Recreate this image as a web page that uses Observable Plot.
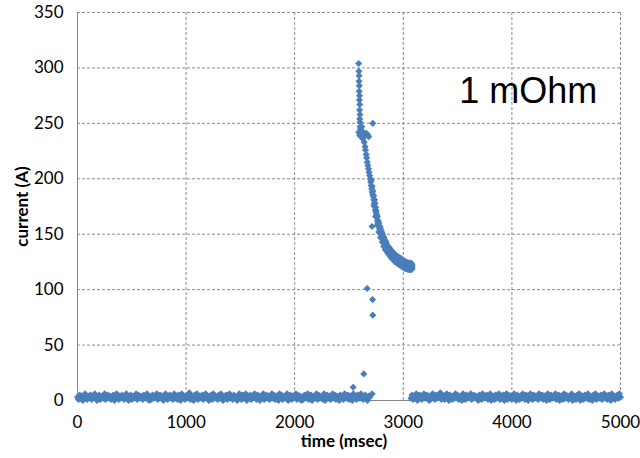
<!DOCTYPE html>
<html><head><meta charset="utf-8">
<script src="https://cdn.jsdelivr.net/npm/d3@7"></script>
<script src="https://cdn.jsdelivr.net/npm/@observablehq/plot@0.6"></script>
<style>body{margin:0;background:#fff} #chart svg{display:block}</style>
</head><body><div id="chart"></div><script>
// ---- data ----
const xTicks = [0, 1000, 2000, 3000, 4000, 5000];
const yTicks = [0, 50, 100, 150, 200, 250, 300, 350];
const xTitle = "time (msec)";
const yTitle = "current (A)";
const annotations = [{t: 3516, v: 268, label: "1 mOhm"}];

// baseline noise before the event, sampled every 10 ms from 0 ms
const noiseStep = 10;
const noiseLeft = [
 3,1,5,2,4,0,3,6,2,1,4,3,5,1,2,4,6,3,0,2,5,1,3,4,2,6,1,3,5,2,
 4,1,3,5,0,2,6,3,1,4,2,5,3,1,4,6,2,0,3,5,1,4,2,3,6,1,5,2,4,3,
 1,5,3,2,6,4,0,3,1,5,2,4,3,6,1,2,5,3,4,0,2,6,3,1,4,5,2,3,1,6,
 2,4,1,5,3,0,6,2,4,1,3,5,2,7,1,4,3,0,5,2,6,1,3,4,2,5,1,3,6,2,
 4,0,3,5,1,6,2,4,3,1,5,2,6,3,0,4,2,5,1,3,6,2,4,1,5,3,2,0,4,6,
 3,1,5,2,4,6,0,3,2,5,1,4,3,6,2,1,5,3,0,4,2,6,1,3,5,2,4,1,3,6,
 2,5,1,4,3,0,6,2,5,1,3,4,2,6,0,3,5,1,4,2,3,6,1,5,2,4,0,3,1,5,
 4,2,6,1,3,5,0,2,4,3,6,1,5,2,3,4,1,6,0,3,5,2,4,1,3,6,2,5,1,4,
 3,0,5,2,4,1,6,3,2,5,1,4,3,0,6,2,4,1,5,3,2,6,4,1,3,5,2,0,4,3
];
// baseline noise after the event, sampled every 10 ms from 3070 ms
const noiseRightStart = 3070;
const noiseRight = [
 2,5,1,4,3,6,0,2,5,3,1,4,6,2,3,5,1,0,4,2,6,3,1,5,2,4,3,7,1,5,
 3,1,4,6,2,0,5,3,1,4,2,6,3,5,1,2,4,0,6,3,1,5,2,4,3,6,1,2,5,3,
 4,2,0,5,3,1,6,2,4,3,5,1,2,6,0,3,4,1,5,2,3,6,1,4,2,5,0,3,6,1,
 5,2,4,1,3,6,2,0,5,3,1,4,2,6,3,1,5,4,0,2,6,3,1,5,2,4,3,1,6,2,
 3,5,1,4,2,0,6,3,1,5,2,4,3,6,1,2,5,0,4,3,1,6,2,5,3,1,4,2,6,0,
 2,4,1,5,3,6,0,2,4,1,5,3,2,6,1,4,3,0,5,2,6,1,3,4,2,5,1,3,6,2,
 4,1,5,3,0,6,2,4,1,3,5,2,6,3
];
// the current pulse [time ms, current A]
const pulse = [
 [2589,304],[2591,297],[2593,293],[2592,288],[2595,284],[2594,279],[2597,275],[2596,271],
 [2599,267],[2597,262],[2601,258],[2599,254],[2603,251],[2602,247],[2606,245],[2618,247],
 [2590,242],[2598,239],[2608,241],[2620,240],[2632,242],[2645,239],[2658,241],[2670,240],[2681,238],
 [2628,236],[2640,233],[2648,229],[2652,226],[2658,222],[2663,219],[2668,215],[2674,212],
 [2679,209],[2684,206],[2690,203],[2696,200],[2700,197],[2704,194],[2709,191],[2714,188],
 [2718,186],[2723,184],[2728,181],[2733,178],[2738,175],[2742,172],[2747,170],[2752,167],
 [2757,165],[2762,162],[2767,160],[2772,158],[2778,156],[2783,154],[2789,152],[2795,150],
 [2801,148],[2807,146],[2813,145],[2819,143],[2826,142],[2833,140],[2840,139],[2847,138],
 [2855,136],[2862,135],[2870,134],[2878,133],[2886,132],[2894,131],[2902,130],[2910,129],
 [2918,128.5],[2926,128],[2934,127],[2942,126.5],[2950,126],[2958,125.5],[2966,125],[2974,124.5],
 [2982,124],[2990,123.5],[2998,123],[3006,123],[3014,122.5],[3022,122],[3030,122],[3038,121.5],
 [3046,121],[3054,121],[3062,121],[3070,120.5],[3078,121],[3082,121],
 [2705,199],[2712,193],[2720,189],[2726,185],[2735,181],[2740,178],[2745,174],[2750,171],
 [2755,168],[2760,166],[2770,162],[2775,160],[2785,157],[2790,155],[2798,153],[2805,151],
 [2812,149],[2820,147],[2828,145],[2835,144],[2845,142],[2852,140],[2860,139],[2868,138],
 [2876,137],[2884,136],[2892,135],[2900,134],[2910,133],[2920,132],[2930,131],[2940,130],
 [2950,130],[2960,129],[2970,128],[2980,128],[2990,127],[3000,126],[3010,126],[3020,125],
 [3030,125],[3040,124],[3050,124],[3060,124],[3070,124],[3080,123],
 [2730,176],[2745,166],[2760,158],[2775,152],[2790,147],[2805,143],[2820,139],[2835,136],
 [2850,134],[2865,132],[2880,130],[2895,128],[2910,127],[2925,125],[2940,124],[2955,123],
 [2970,122],[2985,121],[3000,120],[3015,119],[3030,119],[3045,118],[3060,118],[3075,118],[3082,119]
];
// stray points
const strays = [[2667,101],[2717,91],[2719,77],[2636,24],[2538,12],[2713,6],[2719,250],[2712,157]];

// ---- build table ----
const points = [
  ...noiseLeft.map((v, i) => ({t: i * noiseStep, v})),
  ...noiseRight.map((v, i) => ({t: noiseRightStart + i * noiseStep, v})),
  ...pulse.map(([t, v]) => ({t, v})),
  ...strays.map(([t, v]) => ({t, v}))
];

const gridStyle = {stroke: "#8c8c8c", strokeOpacity: 1, strokeDasharray: "3,2", strokeWidth: 1};
const chart = Plot.plot({
  width: 640, height: 458,
  marginLeft: 77, marginRight: 20, marginTop: 12, marginBottom: 58,
  style: {fontFamily: "Lato, 'Open Sans', sans-serif", fontSize: "17px", color: "#000", background: "#fff"},
  x: {domain: [0, 5000]},
  y: {domain: [0, 350]},
  marks: [
    Plot.gridX(xTicks.filter(d => d > 0), gridStyle),
    Plot.gridY(yTicks.filter(d => d > 0), gridStyle),
    Plot.ruleX([0], {stroke: "#868686"}),
    Plot.ruleY([0], {stroke: "#868686"}),
    Plot.axisX(xTicks, {tickSize: 0, tickPadding: 15, fontSize: 17, tickFormat: d3.format("d"), label: null}),
    Plot.axisY(yTicks, {tickSize: 0, tickPadding: 14, fontSize: 17, tickFormat: d3.format("d"), label: null}),
    Plot.dot(points, {x: "t", y: "v", symbol: "diamond2", r: 3.2, fill: "#4a7ebb", stroke: null}),
    Plot.text([yTitle], {frameAnchor: "left", textAnchor: "middle", dx: -55, rotate: -90, fontWeight: "bold", fontSize: 17}),
    Plot.text([xTitle], {frameAnchor: "bottom", textAnchor: "middle", dy: 46, dx: -5, fontWeight: "bold", fontSize: 17}),
    Plot.text(annotations, {x: "t", y: "v", text: "label", textAnchor: "start", lineAnchor: "bottom",
      fontSize: 36, fontFamily: "'Liberation Sans', Arial, sans-serif", fill: "#000"})
  ]
});
document.getElementById("chart").append(chart);
</script></body></html>
